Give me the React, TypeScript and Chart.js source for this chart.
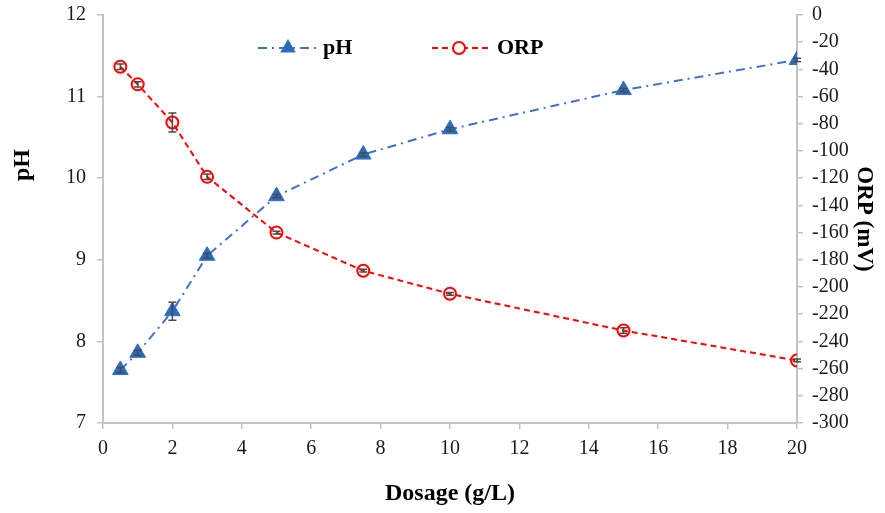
import React, { useEffect, useRef } from "react";
import { Chart, registerables } from "chart.js";

Chart.register(...registerables);

// Dosage of the additive (g/L)
const dosage = [0.5, 1, 2, 3, 5, 7.5, 10, 15, 20];
// Measured pH and its standard deviation
const phValues = [7.65, 7.86, 8.37, 9.05, 9.78, 10.29, 10.6, 11.08, 11.45];
const phErrors = [0.03, 0.03, 0.11, 0.03, 0.02, 0.02, 0.02, 0.02, 0.02];
// Measured oxidation-reduction potential (mV) and its standard deviation
const orpValues = [-38, -51, -79, -119, -160, -188, -205, -232, -254];
const orpErrors = [2, 2, 7, 2, 1, 1, 1, 2, 1];

const xTicks = [0, 2, 4, 6, 8, 10, 12, 14, 16, 18, 20];

const FONT = "'Liberation Serif', 'Times New Roman', serif";
const AXIS_GREY = "#c3c3c3";
const PH_LINE = "#4472C4";
const PH_MARK = "#2B6CC0";
const ORP_RED = "#FF0000";

// The canvas is drawn a little taller and lifted by the same amount so the
// plot area can start close to the top edge of the page.
const LIFT = 8;
const W = 885;
const H = 513 + LIFT;

// Vertical error bars with caps, drawn from each dataset's error array
const errorBarPlugin = {
  id: "errorBars",
  afterDatasetsDraw(chart: any) {
    const ctx = chart.ctx;
    const x = chart.scales.x;
    chart.data.datasets.forEach((ds: any) => {
      const y = chart.scales[ds.yAxisID];
      const errs: number[] = ds.errors || [];
      ctx.save();
      ctx.strokeStyle = "#4a4a4a";
      ctx.lineWidth = 1.5;
      ctx.setLineDash([]);
      ds.data.forEach((pt: any, i: number) => {
        const e = errs[i];
        if (!e) return;
        const px = x.getPixelForValue(pt.x);
        const top = y.getPixelForValue(pt.y + e);
        const bot = y.getPixelForValue(pt.y - e);
        ctx.beginPath();
        ctx.moveTo(px, top);
        ctx.lineTo(px, bot);
        ctx.moveTo(px - 4, top);
        ctx.lineTo(px + 4, top);
        ctx.moveTo(px - 4, bot);
        ctx.lineTo(px + 4, bot);
        ctx.stroke();
      });
      ctx.restore();
    });
  },
};

// Axis titles and the in-plot legend
const annotationPlugin = {
  id: "titlesAndLegend",
  afterDraw(chart: any) {
    const ctx = chart.ctx;
    const area = chart.chartArea;
    const midY = (area.top + area.bottom) / 2;
    ctx.save();
    ctx.fillStyle = "#000";
    ctx.textAlign = "center";
    ctx.textBaseline = "middle";

    // x title
    ctx.font = `bold 24px ${FONT}`;
    ctx.fillText("Dosage (g/L)", (area.left + area.right) / 2, 494 + LIFT);

    // left title
    ctx.save();
    ctx.translate(23, 165 + LIFT);
    ctx.rotate(-Math.PI / 2);
    ctx.fillText("pH", 0, 0);
    ctx.restore();

    // right title
    ctx.font = `bold 23px ${FONT}`;
    ctx.save();
    ctx.translate(864, midY);
    ctx.rotate(Math.PI / 2);
    ctx.fillText("ORP (mV)", 0, 0);
    ctx.restore();

    // legend
    ctx.font = `bold 22px ${FONT}`;
    const ly = 48 + LIFT;
    ctx.textAlign = "left";
    // pH entry
    ctx.strokeStyle = PH_LINE;
    ctx.lineWidth = 2;
    ctx.setLineDash([9, 5, 2, 5]);
    ctx.beginPath();
    ctx.moveTo(258, ly);
    ctx.lineTo(318, ly);
    ctx.stroke();
    ctx.setLineDash([]);
    const r = 9;
    ctx.fillStyle = PH_MARK;
    ctx.beginPath();
    ctx.moveTo(288, ly - r);
    ctx.lineTo(288 + r * 0.866, ly + r * 0.5);
    ctx.lineTo(288 - r * 0.866, ly + r * 0.5);
    ctx.closePath();
    ctx.fill();
    ctx.fillStyle = "#000";
    ctx.fillText("pH", 323, ly);

    // ORP entry
    ctx.strokeStyle = ORP_RED;
    ctx.setLineDash([6, 4]);
    ctx.beginPath();
    ctx.moveTo(432, ly);
    ctx.lineTo(492, ly);
    ctx.stroke();
    ctx.setLineDash([]);
    ctx.fillStyle = "#fff";
    ctx.beginPath();
    ctx.arc(459, ly, 6, 0, Math.PI * 2);
    ctx.fill();
    ctx.stroke();
    ctx.fillStyle = "#000";
    ctx.fillText("ORP", 497, ly);
    ctx.restore();
  },
};

export default function App() {
  const canvasRef = useRef<HTMLCanvasElement | null>(null);

  useEffect(() => {
    if (!canvasRef.current) return;
    const tickFont = { family: FONT, size: 20 };
    const chart = new Chart(canvasRef.current, {
      type: "line",
      data: {
        datasets: [
          {
            label: "pH",
            data: dosage.map((d, i) => ({ x: d, y: phValues[i] })),
            errors: phErrors,
            yAxisID: "y",
            borderColor: PH_LINE,
            borderWidth: 2,
            borderDash: [9, 5, 2, 5],
            pointStyle: "triangle",
            pointRadius: 9,
            pointBackgroundColor: PH_MARK,
            pointBorderColor: PH_MARK,
            pointBorderWidth: 1,
            tension: 0,
            fill: false,
          } as any,
          {
            label: "ORP",
            data: dosage.map((d, i) => ({ x: d, y: orpValues[i] })),
            errors: orpErrors,
            yAxisID: "y2",
            borderColor: ORP_RED,
            borderWidth: 2,
            borderDash: [6, 4],
            pointStyle: "circle",
            pointRadius: 6,
            pointBackgroundColor: "rgba(255,255,255,0)",
            pointBorderColor: ORP_RED,
            pointBorderWidth: 2,
            tension: 0,
            fill: false,
          } as any,
        ],
      },
      options: {
        responsive: false,
        animation: false,
        layout: { padding: { top: 8, left: 0, right: 0, bottom: 0 } },
        plugins: {
          legend: { display: false },
          tooltip: { enabled: false },
        },
        scales: {
          x: {
            type: "linear",
            min: 0,
            max: 20,
            afterFit: (s: any) => {
              s.height = 90;
            },
            afterBuildTicks: (s: any) => {
              s.ticks = xTicks.map((v) => ({ value: v }));
            },
            ticks: { font: tickFont, color: "#1a1a1a", padding: 8, maxRotation: 0 },
            grid: { drawOnChartArea: false, drawTicks: true, tickLength: 6, color: AXIS_GREY, lineWidth: 1.5 },
            border: { color: AXIS_GREY, width: 2 },
          },
          y: {
            type: "linear",
            position: "left",
            min: 7,
            max: 12,
            afterFit: (s: any) => {
              s.width = 103;
            },
            ticks: { stepSize: 1, font: tickFont, color: "#1a1a1a", padding: 11 },
            grid: { drawOnChartArea: false, drawTicks: true, tickLength: 6, color: AXIS_GREY, lineWidth: 1.5 },
            border: { color: AXIS_GREY, width: 2 },
          },
          y2: {
            type: "linear",
            position: "right",
            min: -300,
            max: 0,
            afterFit: (s: any) => {
              s.width = 88;
            },
            ticks: { stepSize: 20, font: tickFont, color: "#1a1a1a", padding: 9 },
            grid: { drawOnChartArea: false, drawTicks: true, tickLength: 6, color: AXIS_GREY, lineWidth: 1.5 },
            border: { color: AXIS_GREY, width: 2 },
          },
        },
      } as any,
      plugins: [errorBarPlugin, annotationPlugin],
    });
    return () => chart.destroy();
  }, []);

  return (
    <div style={{ position: "absolute", left: 0, top: 0, width: W, height: 513, overflow: "hidden", background: "#fff" }}>
      <canvas ref={canvasRef} width={W} height={H} style={{ position: "absolute", left: 0, top: -LIFT }} />
    </div>
  );
}
